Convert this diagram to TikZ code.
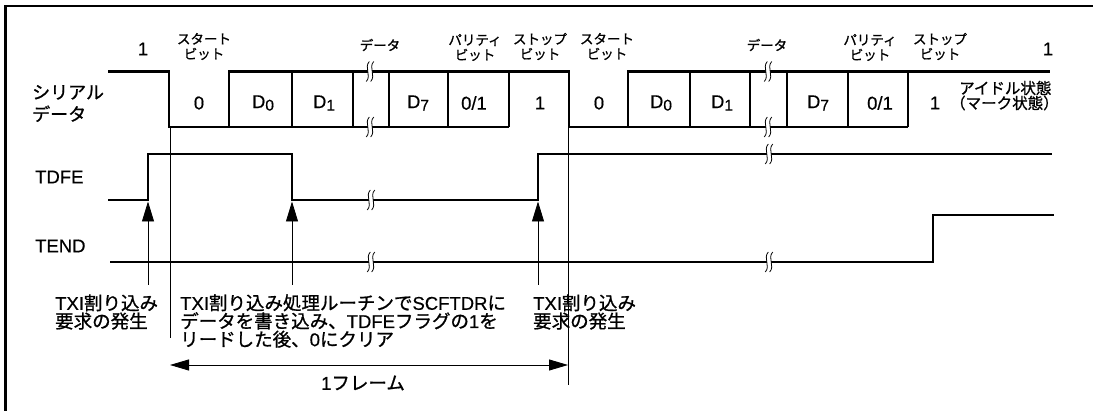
\documentclass[tikz,border=0pt]{standalone}
\usepackage{fontspec}
\setmainfont{Liberation Sans}[RawFeature={embolden=0.5}]
\newfontfamily\jp{Noto Sans CJK JP}[RawFeature={embolden=1}]
\usetikzlibrary{arrows.meta}
\newcommand{\J}[1]{{\jp #1}}
\newcommand{\Dsub}[1]{D\raisebox{-2.5pt}{\fontsize{15.5}{15.5}\selectfont #1}}
\newcommand{\brkmark}[2]{%
  \draw[white,line width=4.2pt] ({#1+1.5},{#2-10}) .. controls ({#1-4},{#2-4}) and ({#1+4},{#2+4}) .. ({#1-1.5},{#2+10});
  \draw[line width=0.8pt] ({#1-0.7},{#2-10}) .. controls ({#1-6.2},{#2-4}) and ({#1+1.8},{#2+4}) .. ({#1-3.7},{#2+10});
  \draw[line width=0.8pt] ({#1+3.7},{#2-10}) .. controls ({#1-1.8},{#2-4}) and ({#1+6.2},{#2+4}) .. ({#1+0.7},{#2+10});
}
\begin{document}
\begin{tikzpicture}[x=1pt,y=-1pt,
  sig/.style={line width=2.4pt, line join=miter},
  thinl/.style={line width=0.9pt},
  arr/.style={thinl, -{Triangle[length=20pt,width=12pt]}},
  darr/.style={thinl, {Triangle[length=19pt,width=11pt]}-{Triangle[length=19pt,width=11pt]}},
  big/.style={font=\fontsize{18.5}{21}\selectfont, inner sep=0},
  small/.style={font=\jp\fontsize{13.5}{15}\selectfont, inner sep=0, align=center},
  bot/.style={font=\fontsize{18.5}{18.2}\selectfont, inner sep=0, align=left},
]
\useasboundingbox (0,0) rectangle (1093,411);
% frame
\draw[line width=2.5pt] (5.5,411) -- (5.5,6) -- (1093,6);

% serial data
\draw[sig] (108,71.5) -- (169,71.5) -- (169,127) -- (509,127);
\draw[sig] (229,127) -- (229,71.5) -- (569,71.5) -- (569,127) -- (908,127);
\foreach \x in {292,353,389,448,509} \draw[sig] (\x,71.5) -- (\x,127);
\draw[sig] (628,127) -- (628,71.5) -- (1050,71.5);
\foreach \x in {690,750,787,848,908} \draw[sig] (\x,71.5) -- (\x,127);

% TDFE
\draw[sig] (108,200) -- (148,200) -- (148,154) -- (292,154) -- (292,200) -- (538,200) -- (538,154) -- (1052,154);
% TEND
\draw[sig] (110,262) -- (933,262) -- (933,215) -- (1054,215);

% breaks
\brkmark{370}{71.5}
\brkmark{370}{127}
\brkmark{768}{71.5}
\brkmark{768}{127}
\brkmark{371}{200}
\brkmark{769}{154}
\brkmark{371}{262}
\brkmark{769}{262}

% thin vertical markers
\coordinate (v1t) at (170,128);
\coordinate (v1b) at (170,338);
\coordinate (v2t) at (568,128);
\coordinate (v2b) at (568,385);
\draw[thinl] (v1t) -- (v1b);
\draw[thinl] (v2t) -- (v2b);

% interrupt arrows
\coordinate (a1s) at (148,285); \coordinate (a1e) at (148,201.5);
\coordinate (a2s) at (292,285); \coordinate (a2e) at (292,201.5);
\coordinate (a3s) at (538,285); \coordinate (a3e) at (538,201.5);
\draw[arr] (a1s) -- (a1e);
\draw[arr] (a2s) -- (a2e);
\draw[arr] (a3s) -- (a3e);

% frame arrow
\coordinate (fl) at (170,365);
\coordinate (fr) at (568,365);
\draw[darr] (fl) -- (fr);

% top labels
\node[big] (one1) at (143,49) {1};
\node[small] (st1) at (204,46.5) {スタート\\ビット};
\node[small] (dt1) at (380,45) {データ};
\node[small] (pb1) at (475,47.5) {パリティ\\ビット};
\node[small] (sp1) at (540,46.5) {ストップ\\ビット};
\node[small] (st2) at (607,46.5) {スタート\\ビット};
\node[small] (dt2) at (767,45) {データ};
\node[small] (pb2) at (870,47.5) {パリティ\\ビット};
\node[small] (sp2) at (940,46.5) {ストップ\\ビット};
\node[big] (one2) at (1048,49) {1};

% cell labels
\node[big] (c1) at (199,103) {0};
\node[big] (c2) at (263,103) {\Dsub{0}};
\node[big] (c3) at (324,103) {\Dsub{1}};
\node[big] (c4) at (418,103) {\Dsub{7}};
\node[big] (c5) at (474,103) {0/1};
\node[big] (c6) at (540,103) {1};
\node[big] (c7) at (599,103) {0};
\node[big] (c8) at (661,103) {\Dsub{0}};
\node[big] (c9) at (722,103) {\Dsub{1}};
\node[big] (c10) at (818,103) {\Dsub{7}};
\node[big] (c11) at (880,103) {0/1};
\node[big] (c12) at (935,103) {1};

% left labels
\node[inner sep=0, font=\jp\fontsize{18}{22}\selectfont, align=left, anchor=west] (sd) at (32,103.5) {シリアル\\データ};
\node[big, anchor=west] (tdfe) at (35,177) {TDFE};
\node[big, anchor=west] (tend) at (35,246) {TEND};

% idle
\node[inner sep=0, font=\jp\fontsize{15.5}{15}\selectfont, anchor=west] (idle1) at (959,88) {アイドル状態};
\node[inner sep=0, font=\jp\fontsize{15.5}{15}\selectfont, anchor=west] (idle2) at (950,103) {（マーク状態）};

% bottom texts
\node[bot, anchor=west] (txi1) at (55,312) {TXI\J{割り込み}\\\J{要求の発生}};
\node[bot, anchor=west] (txi2) at (180,321) {TXI\J{割り込み処理ルーチンで}SCFTDR\J{に}\\\J{データを書き込み、}TDFE\J{フラグの}1\J{を}\\\J{リードした後、}0\J{にクリア}};
\node[bot, anchor=west] (txi3) at (533,312) {TXI\J{割り込み}\\\J{要求の発生}};
\node[bot] (frm) at (363,383) {1\J{フレーム}};
\end{tikzpicture}
\end{document}
